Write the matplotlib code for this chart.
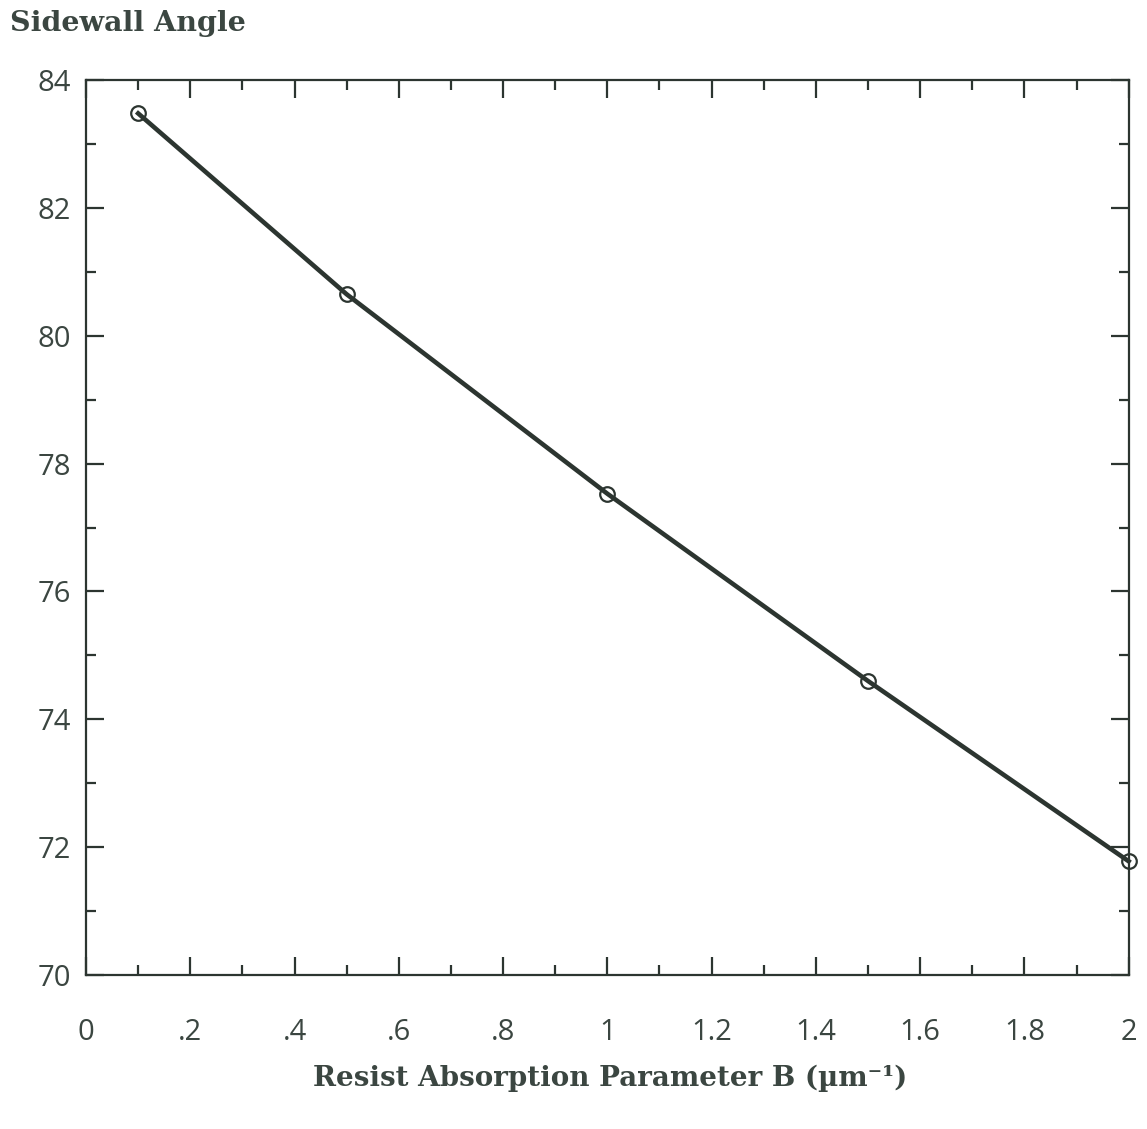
import matplotlib.pyplot as plt
from matplotlib.ticker import MultipleLocator, FixedLocator, FixedFormatter

b_param = [0.1, 0.5, 1.0, 1.5, 2.0]
sidewall_angle = [83.48, 80.65, 77.53, 74.6, 71.78]

x_ticks = [0, 0.2, 0.4, 0.6, 0.8, 1.0, 1.2, 1.4, 1.6, 1.8, 2.0]
x_tick_labels = ['0', '.2', '.4', '.6', '.8', '1', '1.2', '1.4', '1.6', '1.8', '2']
y_ticks = [70, 72, 74, 76, 78, 80, 82, 84]

ink = '#2c3530'
text_col = '#3b4641'

fig = plt.figure(figsize=(11.47, 11.29), dpi=100)
ax = fig.add_axes([0.075, 0.1364, 0.909, 0.7926])

ax.plot(b_param, sidewall_angle, color=ink, lw=3.3, marker='o', ms=10.5,
        mfc='none', mec=ink, mew=1.6, clip_on=False)

ax.set_xlim(0, 2)
ax.set_ylim(70, 84)
ax.xaxis.set_major_locator(FixedLocator(x_ticks))
ax.xaxis.set_major_formatter(FixedFormatter(x_tick_labels))
ax.xaxis.set_minor_locator(MultipleLocator(0.1))
ax.yaxis.set_major_locator(FixedLocator(y_ticks))
ax.yaxis.set_minor_locator(MultipleLocator(1))

for s in ax.spines.values():
    s.set_color(ink)
    s.set_linewidth(1.6)

ax.tick_params(which='both', direction='in', top=True, right=True, color=ink, width=1.6)
ax.tick_params(which='major', length=13)
ax.tick_params(which='minor', length=7.5)
ax.tick_params(axis='x', which='major', pad=31, labelsize=21, labelcolor=text_col)
ax.tick_params(axis='y', which='major', pad=11, labelsize=21, labelcolor=text_col)
for lab in ax.get_xticklabels() + ax.get_yticklabels():
    lab.set_family('Open Sans')

fig.text(0.009, 0.979, 'Sidewall Angle', family='DejaVu Serif', weight='bold',
         fontsize=20.5, color=text_col, ha='left', va='center')
fig.text(0.532, 0.045, 'Resist Absorption Parameter B (\u00b5m\u207b\u00b9)',
         family='DejaVu Serif', weight='bold', fontsize=20, color=text_col,
         ha='center', va='center')

fig.savefig('out.png', dpi=100)
